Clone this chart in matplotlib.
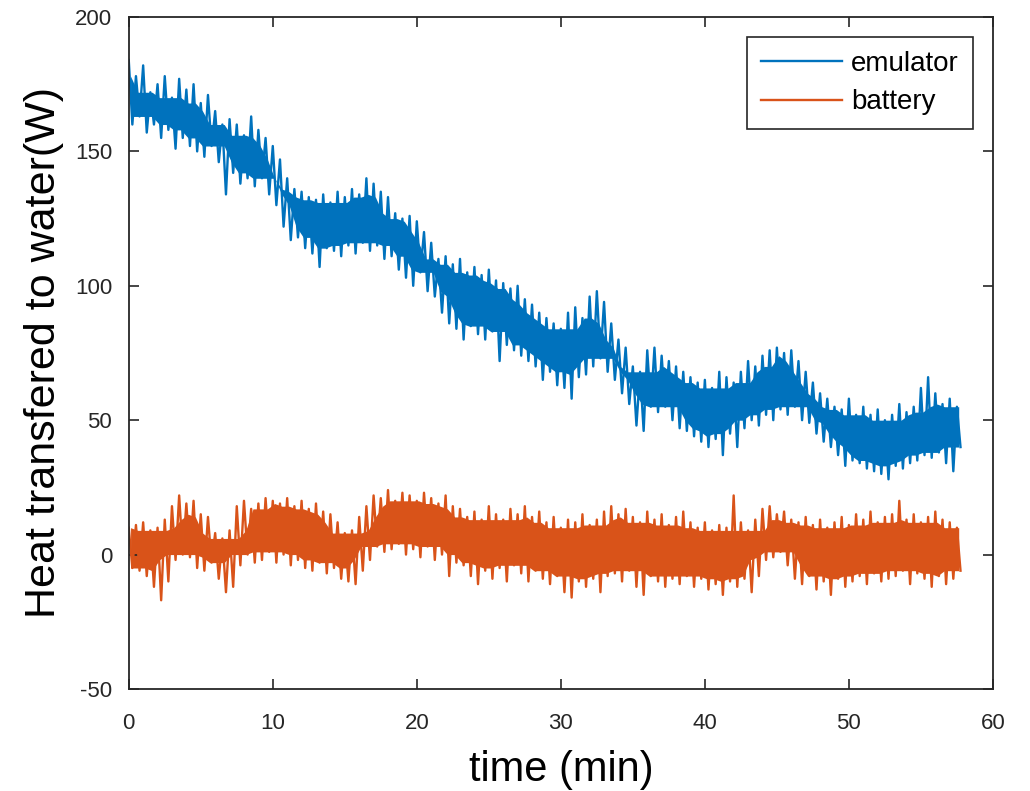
import numpy as np
import matplotlib
matplotlib.use("Agg")
import matplotlib.pyplot as plt

# sample times (min), half-minute bins
t = np.arange(0, 58, 0.5)

# emulator: upper / lower extent of the noisy trace in each bin (W)
emu_hi = [184, 178, 182, 172, 175, 178, 170, 177, 173, 175, 168, 171, 165, 160, 162, 160,
          156, 163, 158, 155, 152, 147, 140, 136, 135, 133, 132, 134, 131, 135, 133, 136,
          134, 140, 138, 135, 133, 127, 125, 126, 124, 120, 116, 110, 111, 108, 110, 105,
          107, 104, 106, 102, 101, 99, 100, 95, 93, 90, 88, 86, 84, 90, 92, 88,
          96, 98, 94, 86, 80, 77, 70, 68, 76, 77, 74, 72, 70, 68, 66, 64,
          65, 62, 68, 66, 64, 68, 72, 70, 74, 76, 77, 75, 76, 72, 68, 64,
          60, 58, 55, 54, 58, 52, 55, 52, 54, 50, 52, 56, 53, 55, 62, 66,
          60, 56, 58, 55]
emu_lo = [160, 163, 157, 160, 155, 158, 151, 155, 152, 150, 148, 152, 146, 134, 142, 138,
          140, 137, 140, 134, 130, 122, 117, 118, 114, 112, 107, 114, 113, 111, 115, 112,
          116, 113, 115, 110, 111, 106, 103, 100, 105, 98, 96, 90, 86, 84, 80, 85,
          82, 80, 83, 72, 78, 76, 74, 72, 70, 65, 68, 63, 62, 58, 66, 67,
          70, 73, 68, 65, 60, 56, 48, 46, 55, 53, 55, 50, 47, 46, 44, 42,
          40, 43, 37, 45, 40, 47, 50, 48, 52, 50, 54, 52, 55, 50, 49, 45,
          42, 40, 37, 33, 35, 34, 32, 31, 30, 28, 33, 32, 34, 35, 37, 36,
          38, 34, 31, 40]

# battery
bat_hi = [10, 11, 12, 9, 10, 13, 18, 22, 19, 20, 15, 14, 8, 6, 9, 18,
          20, 17, 19, 21, 20, 19, 21, 18, 20, 17, 19, 16, 15, 12, 8, 9,
          14, 18, 22, 21, 24, 20, 23, 22, 20, 23, 21, 19, 22, 18, 17, 14,
          16, 13, 18, 15, 13, 17, 15, 18, 14, 16, 12, 14, 10, 13, 12, 15,
          11, 13, 16, 18, 15, 17, 14, 12, 16, 13, 15, 11, 14, 16, 12, 10,
          12, 9, 11, 10, 22, 12, 9, 13, 17, 18, 15, 16, 13, 12, 14, 11,
          13, 10, 12, 14, 11, 15, 13, 16, 12, 14, 15, 20, 13, 15, 12, 14,
          16, 13, 12, 10]
bat_lo = [-5, -6, -8, -12, -17, -10, -2, 0, -1, -5, -6, -3, -9, -14, -12, -4,
          0, -3, -2, 1, -3, 0, -4, -2, -5, -6, -3, -7, -5, -9, -10, -11,
          -6, -2, 3, 1, 2, 4, 0, 2, -1, 3, -2, 0, -8, -3, -4, -8,
          -11, -6, -9, -5, -10, -4, -7, -10, -6, -9, -11, -8, -14, -16, -10, -12,
          -9, -14, -8, -7, -10, -6, -12, -15, -8, -10, -12, -9, -11, -8, -12, -9,
          -13, -11, -15, -10, -12, -9, -14, -8, -2, -1, 1, -4, -9, -11, -8, -13,
          -10, -15, -9, -12, -10, -8, -11, -7, -10, -9, -8, -6, -11, -7, -9, -12,
          -8, -11, -9, -6]

series = [("emulator", emu_hi, emu_lo, "#0072BD"),
          ("battery", bat_hi, bat_lo, "#D95319")]

xticks = [0, 10, 20, 30, 40, 50, 60]
yticks = [-50, 0, 50, 100, 150, 200]


def zigzag(tt, hi, lo):
    # alternate between the top and bottom of each bin to mimic the dense trace
    xs = np.empty(2 * len(tt))
    ys = np.empty(2 * len(tt))
    xs[0::2] = tt
    xs[1::2] = tt + 0.25
    ys[0::2] = hi
    ys[1::2] = lo
    return xs, ys


def core(v, fn, k=2):
    # neighbour min/max so single spikes stick out of the solid part
    v = np.asarray(v, float)
    out = v.copy()
    for s in range(1, k + 1):
        out = fn(out, np.concatenate([v[s:], v[-s:]]))
        out = fn(out, np.concatenate([v[:s], v[:-s]]))
    return out


if __name__ == "__main__":
    plt.rcParams['font.family'] = ['Liberation Sans', 'DejaVu Sans']
    plt.rcParams['axes.unicode_minus'] = False
    fig = plt.figure(figsize=(10.3, 7.91), dpi=100)
    ax = fig.add_axes([0.125, 0.129, 0.839, 0.8495])

    for name, hi, lo, col in series:
        ax.fill_between(t + 0.125, core(lo, np.maximum), core(hi, np.minimum),
                        color=col, lw=0)
        xs, ys = zigzag(t, hi, lo)
        ax.plot(xs, ys, color=col, lw=1.7, label=name)

    ax.set_xlim(0, 60)
    ax.set_ylim(-50, 200)
    ax.set_xticks(xticks)
    ax.set_yticks(yticks)
    ax.tick_params(direction='in', length=7, width=1.2, top=True, right=True,
                   labelsize=16, colors='#262626')
    ax.tick_params(axis='x', pad=17)
    ax.tick_params(axis='y', pad=12)
    for s in ax.spines.values():
        s.set_linewidth(1.3)
        s.set_color('#262626')

    ax.set_xlabel("time (min)", fontsize=30, labelpad=12)
    ax.set_ylabel("Heat transfered to water(W)", fontsize=31, labelpad=8)

    leg = ax.legend(loc='upper right', fontsize=20, handlelength=2.9,
                    fancybox=False, edgecolor='#262626', framealpha=1,
                    borderaxespad=0.72, borderpad=0.5, handletextpad=0.35,
                    labelspacing=0.45)
    leg.get_frame().set_linewidth(1.2)

    fig.savefig('out.png', dpi=100)
